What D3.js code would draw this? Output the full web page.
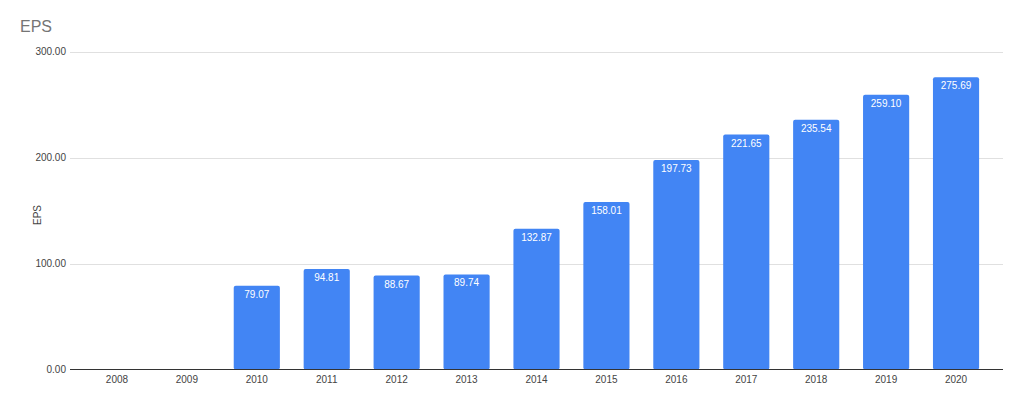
<!DOCTYPE html>
<html>
<head>
<meta charset="utf-8">
<script src="https://cdn.jsdelivr.net/npm/d3@7"></script>
<style>
  html, body { margin: 0; padding: 0; background: #fff; }
  svg { display: block; font-family: "Liberation Sans", Arial, sans-serif; }
</style>
</head>
<body>
<svg id="chart" width="1024" height="402"></svg>
<script>
const years = ["2008","2009","2010","2011","2012","2013","2014","2015","2016","2017","2018","2019","2020"];
const eps = [null, null, 79.07, 94.81, 88.67, 89.74, 132.87, 158.01, 197.73, 221.65, 235.54, 259.10, 275.69];
const yTicks = [0, 100, 200, 300];
const title = "EPS";
const yTitle = "EPS";

const svg = d3.select("#chart");
const x = d3.scaleBand().domain(years).range([82, 991]).paddingInner(0.34).paddingOuter(0.17);
const y = d3.scaleLinear().domain([0, 300]).range([369.5, 51.5]);

// gridlines
svg.append("g").selectAll("line").data(yTicks.filter(d => d !== 0)).join("line")
  .attr("x1", 70).attr("x2", 1003)
  .attr("y1", d => Math.round(y(d)) + 0.5).attr("y2", d => Math.round(y(d)) + 0.5)
  .attr("stroke", "#e0e0e0").attr("stroke-width", 1);

// y tick labels
svg.append("g").selectAll("text").data(yTicks).join("text")
  .attr("x", 66).attr("y", d => y(d) + 3.5)
  .attr("text-anchor", "end").attr("font-size", 10).attr("fill", "#444")
  .text(d => d3.format(".2f")(d));

// bars
const data = years.map((yr, i) => ({ yr, v: eps[i] })).filter(d => d.v != null);
svg.append("g").selectAll("rect").data(data).join("rect")
  .attr("x", d => x(d.yr)).attr("width", x.bandwidth())
  .attr("y", d => y(d.v)).attr("height", d => y(0) - y(d.v))
  .attr("rx", 2).attr("fill", "#4285f4");

// value labels
svg.append("g").selectAll("text").data(data).join("text")
  .attr("x", d => x(d.yr) + x.bandwidth() / 2).attr("y", d => y(d.v) + 12)
  .attr("text-anchor", "middle").attr("font-size", 10).attr("fill", "#fff")
  .text(d => d3.format(".2f")(d.v));

// baseline
svg.append("line").attr("x1", 70).attr("x2", 1003)
  .attr("y1", 369.5).attr("y2", 369.5).attr("stroke", "#333").attr("stroke-width", 1);

// x tick labels
svg.append("g").selectAll("text").data(years).join("text")
  .attr("x", d => x(d) + x.bandwidth() / 2).attr("y", 383)
  .attr("text-anchor", "middle").attr("font-size", 10).attr("fill", "#444")
  .text(d => d);

// title
svg.append("text").attr("x", 20).attr("y", 32).attr("font-size", 16).attr("fill", "#757575").text(title);

// y axis title
svg.append("text").attr("transform", "translate(41,215) rotate(-90)")
  .attr("text-anchor", "middle").attr("font-size", 10).attr("fill", "#444").text(yTitle);
</script>
</body>
</html>
